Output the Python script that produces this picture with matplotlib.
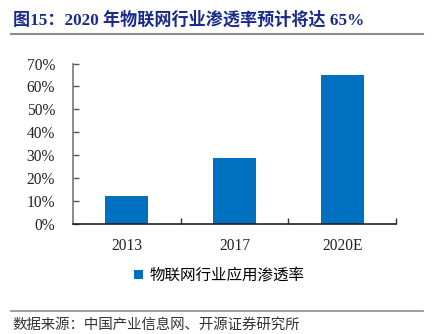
import matplotlib
matplotlib.use("Agg")
import matplotlib.pyplot as plt
from matplotlib.patches import Patch
from matplotlib.lines import Line2D

categories = ["2013", "2017", "2020E"]
values = [12, 29, 65]
yticks = [0, 10, 20, 30, 40, 50, 60, 70]
ytick_labels = ["0%", "10%", "20%", "30%", "40%", "50%", "60%", "70%"]
series_name = "物联网行业应用渗透率"
title = "图15：2020 年物联网行业渗透率预计将达 65%"
source = "数据来源：中国产业信息网、开源证券研究所"

W, H = 433, 334
fig = plt.figure(figsize=(W / 100, H / 100), dpi=100)
fam = ["Liberation Serif", "Noto Sans CJK SC", "DejaVu Sans"]
plt.rcParams["font.family"] = fam

bar_color = "#0070C0"
ax = fig.add_axes([73 / W, (H - 224) / H, 323 / W, 160.5 / H])
x = list(range(len(categories)))
ax.bar(x, values, width=0.4, color=bar_color)
ax.set_xlim(-0.5, 2.5)
ax.set_ylim(0, 70)
ax.set_yticks(yticks)
ax.set_yticklabels(ytick_labels, fontsize=11.2, color="#222222")
ax.set_xticks(x)
ax.set_xticklabels(categories, fontsize=11.2, color="#222222")
ax.tick_params(axis="x", length=0, pad=10)
ax.tick_params(axis="y", direction="in", length=4, width=1, color="#555555", pad=13)
ax.set_xticks([0.5, 1.5, 2.5], minor=True)
ax.tick_params(axis="x", which="minor", direction="in", length=4, width=1, color="#333333")
for s in ["top", "right"]:
    ax.spines[s].set_visible(False)
ax.spines["left"].set_color("#777777")
ax.spines["bottom"].set_color("#222222")
ax.spines["left"].set_linewidth(1.2)
ax.spines["bottom"].set_linewidth(1.2)

# title
fig.text(13 / W, 1 - 20 / H, title, fontsize=12.3, fontweight="bold",
         color="#1A2A8C", va="center", ha="left", family=fam)
fig.add_artist(Line2D([11 / W, 423 / W], [1 - 33.5 / H, 1 - 33.5 / H],
                      color="#8c8c8c", lw=1.5, transform=fig.transFigure))
fig.add_artist(Line2D([11 / W, 423 / W], [1 - 311 / H, 1 - 311 / H],
                      color="#8c8c8c", lw=1.2, transform=fig.transFigure))
fig.text(12 / W, 1 - 325 / H, source, fontsize=10.4, color="#333333",
         va="center", ha="left", family=fam)

handle = Patch(facecolor=bar_color, edgecolor="none")
fig.legend([handle], [series_name], loc="center",
           bbox_to_anchor=(219 / W, 1 - 276 / H), frameon=False,
           handlelength=0.6, handleheight=0.6, handletextpad=0.4,
           prop={"family": fam, "size": 11.2})

fig.savefig("out.png", dpi=100)
